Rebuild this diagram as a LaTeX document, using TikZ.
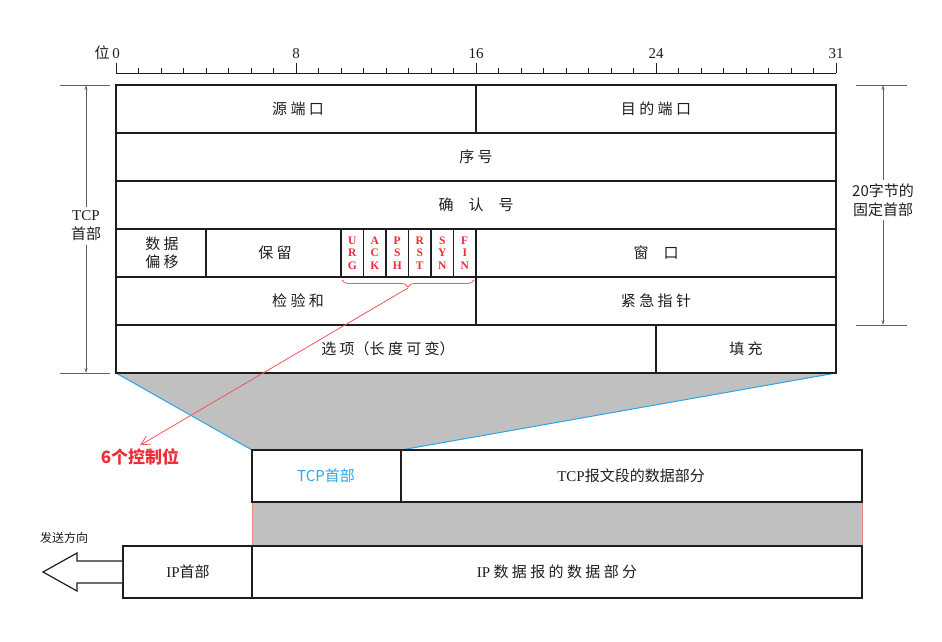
\documentclass[tikz,border=0pt]{standalone}
\usepackage{fontspec}
\setmainfont{Liberation Serif}
\newfontfamily\cjk{Noto Sans CJK SC}
\usetikzlibrary{arrows.meta,decorations.pathreplacing}
\definecolor{Shade}{HTML}{C0C0C0}
\definecolor{LBlue}{HTML}{2AA6E6}
\definecolor{FRed}{HTML}{EE2C36}
\definecolor{PRed}{HTML}{F08080}
\definecolor{Ink}{HTML}{1E1E1E}

\begin{document}
\begin{tikzpicture}[x=1pt,y=-1pt,
  lbl/.style={font=\cjk\fontsize{15}{18}\selectfont,text=Ink,align=center},
  num/.style={font=\fontsize{15}{16}\selectfont,text=Ink},
  flagtxt/.style={font=\rmfamily\bfseries\fontsize{11.5}{12.5}\selectfont,text=FRed,align=center},
  dimline/.style={Ink!70,line width=0.8},
  dimarrow/.style={Ink!70,line width=0.8,-{Stealth[length=5pt,width=3pt]}},
  cellline/.style={Ink,line width=1.4},
  boxline/.style={Ink,line width=2.2}]
\useasboundingbox (0,0) rectangle (942,641);

% ruler of bit positions
\draw[Ink,line width=0.8] (116,73) -- (836,73);
\foreach \b in {0,...,32}{
  \pgfmathsetmacro{\bx}{116+\b*22.5}
  \draw[Ink,line width=0.8] (\bx,73) -- (\bx,68);
}
\foreach \b/\t in {0/0,8/8,16/16,24/24,32/31}{
  \pgfmathsetmacro{\bx}{116+\b*22.5}
  \draw[Ink,line width=0.8] (\bx,73) -- (\bx,63);
  \node[num] (tick\b) at (\bx,54) {\t};
}
\node[lbl] (wei) at (102,53) {位};

% shaded projection of the header
\fill[Shade] (116,373) -- (836,373) -- (401,450) -- (252,450) -- cycle;
\draw[LBlue,line width=1] (116,373) -- (252,450);
\draw[LBlue,line width=1] (836,373) -- (401,450);

% TCP header
\fill[white] (116,85) rectangle (836,373);
\foreach \y in {133,181,229,277,325}
  \draw[cellline] (116,\y) -- (836,\y);
\draw[cellline] (476,85) -- (476,133);
\draw[cellline] (206,229) -- (206,277);
\foreach \b in {10,...,16}{
  \pgfmathsetmacro{\bx}{116+\b*22.5}
  \draw[cellline] (\bx,229) -- (\bx,277);
}
\draw[cellline] (476,277) -- (476,325);
\draw[cellline] (656,325) -- (656,373);
\draw[boxline] (116,85) rectangle (836,373);

\node[lbl] (src) at (298,109) {源 端 口};
\node[lbl] (dst) at (656,109) {目 的 端 口};
\node[lbl] (seq) at (476,157) {序 号};
\node[lbl] (ack) at (476,205) {确\quad 认\quad 号};
\node[lbl,font=\cjk\fontsize{15}{18}\selectfont] (off) at (162,253) {数 据\\偏 移};
\node[lbl] (rsv) at (275,253) {保 留};
\node[lbl] (win) at (656,253) {窗\quad 口};
\node[lbl] (chk) at (298,301) {检 验 和};
\node[lbl] (urp) at (656,301) {紧 急 指 针};
\node[lbl] (opt) at (388,349) {选 项（长 度 可 变）};
\node[lbl] (pad) at (746,349) {填 充};

% the six flags
\foreach \f/\txt [count=\i from 10] in {urg/U\\R\\G,ack/A\\C\\K,psh/P\\S\\H,rst/R\\S\\T,syn/S\\Y\\N,fin/F\\I\\N}{
  \pgfmathsetmacro{\bx}{116+\i*22.5+11.25}
  \node[flagtxt] (\f) at (\bx,253) {\txt};
}

% brace and pointer to the flag label
\draw[FRed!80,line width=0.8,decorate,decoration={brace,mirror,amplitude=7pt}]
  (342,280) -- (474,280);
\coordinate (bracetip) at (408,288);
\node[font=\cjk\bfseries\fontsize{17}{19}\selectfont,text=FRed] (ctl) at (140,457) {6个控制位};
\draw[FRed!80,line width=0.8,-{Straight Barb[length=9pt,width=9pt]}] (bracetip) -- (ctl.north);

% size of header, left
\coordinate (lt) at (86,85);
\coordinate (lb) at (86,373);
\draw[dimline] (60,85) -- (110,85);
\draw[dimline] (60,373) -- (110,373);
\node[lbl,font=\cjk\fontsize{15}{19}\selectfont] (tcphd) at (86,226) {\rmfamily TCP\\首部};
\draw[dimarrow] (tcphd.north) -- (lt);
\draw[dimarrow] (tcphd.south) -- (lb);

% size of fixed part, right
\coordinate (rt) at (883,85);
\coordinate (rb) at (883,325);
\draw[dimline] (856,85) -- (907,85);
\draw[dimline] (856,325) -- (907,325);
\node[lbl,font=\cjk\fontsize{15}{19}\selectfont] (fix) at (883,200) {20字节的\\固定首部};
\draw[dimarrow] (fix.north) -- (rt);
\draw[dimarrow] (fix.south) -- (rb);

% TCP segment
\draw[cellline] (401,450) -- (401,502);
\draw[boxline] (252,450) rectangle (862,502);
\node[lbl,text=LBlue] (seghd) at (326,476) {TCP首部};
\node[lbl] (segdata) at (631,476) {{\rmfamily TCP}报文段的数据部分};

% shaded band between segment and datagram
\fill[Shade] (252,503) rectangle (862,546);
\draw[PRed,line width=0.8] (252,503) -- (252,546);
\draw[PRed,line width=0.8] (862,503) -- (862,546);

% IP datagram
\fill[white] (123,546) rectangle (862,598);
\draw[cellline] (252,546) -- (252,598);
\draw[boxline] (123,546) rectangle (862,598);
\node[lbl] (iphd) at (188,572) {{\rmfamily IP}首部};
\node[lbl] (ipdata) at (557,572) {{\rmfamily IP} 数 据 报 的 数 据 部 分};

% direction of sending
\draw[Ink,line width=1.2,fill=white] (122,561) -- (77,561) -- (77,553) -- (43,572)
  -- (77,591) -- (77,583) -- (122,583);
\node[lbl,font=\cjk\fontsize{12}{14}\selectfont] (dir) at (64,538) {发送方向};
\end{tikzpicture}
\end{document}
